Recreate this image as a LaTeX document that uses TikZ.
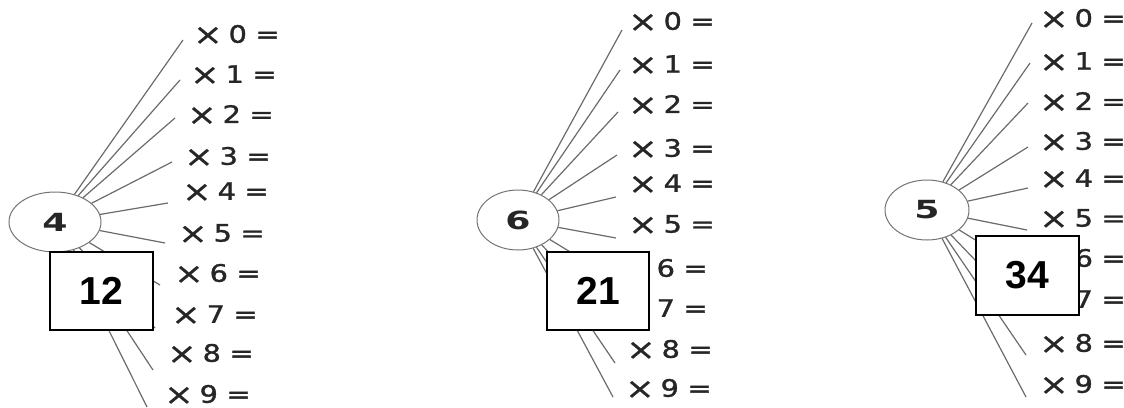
\documentclass[tikz,border=0pt]{standalone}
\usepackage{fontspec}
\newfontfamily\factfont[FakeBold=1.2]{DejaVu Sans}
\newfontfamily\crossfont[FakeBold=0.4]{DejaVu Sans}
\newfontfamily\hubfont{DejaVu Sans}
\newfontfamily\boxfont{Liberation Sans}
\usetikzlibrary{shapes.geometric}
\newcommand\facttext[1]{\scalebox{1.2}[1]{\smash{\raisebox{-1.8pt}{\scalebox{1.22}{\crossfont ×}}}\hspace{5pt}#1\hspace{7.2pt}=}}
\newcommand\hubtext[1]{\scalebox{1.45}[1]{#1}}
\tikzset{
  spoke/.style={draw=black!58, line width=1.2pt},
  hub/.style={ellipse, draw=black!55, line width=1pt, inner sep=0pt,
    font=\hubfont\bfseries\fontsize{25}{25}\selectfont, text=black!85},
  fact/.style={anchor=west, inner sep=0pt, font=\factfont\fontsize{24}{24}\selectfont, text=black!85},
  answer/.style={draw=black, line width=1.2pt, fill=white, inner sep=0pt,
    font=\boxfont\bfseries\fontsize{39}{39}\selectfont},
}
\begin{document}
\begin{tikzpicture}[x=1pt,y=-1pt]
\useasboundingbox (0,0) rectangle (1124,407);
% panel 1
\node[hub, minimum width=92pt, minimum height=60pt] (e1) at (55,222) {\hubtext{4}};
\foreach \i/\lx/\ly/\ex/\ey in {0/193/34/183/40, 1/190/74/180/80, 2/187/114/175/118,
  3/184/156/172/162, 4/182/191/168/203, 5/178/233/165/243, 6/174/273/160/285,
  7/171/314/155/328, 8/167/353/153/370, 9/164/394/147/407}{
  \coordinate (p1-\i) at (\ex,\ey);
  \node[fact] (l1-\i) at (\lx,\ly) {\facttext{\i}};
  \draw[spoke] (e1) -- (p1-\i);
}
% panel 2
\node[hub, minimum width=82pt, minimum height=60pt] (e2) at (518,220) {\hubtext{6}};
\foreach \i/\lx/\ly/\ex/\ey in {0/628/21/622/30, 1/628/64/620/70, 2/628/104/618/112, 3/628/148/617/155,
  4/628/183/616/197, 5/628/224/616/238, 6/621/268/616/280, 7/621/308/615/322, 8/626/349/615/363, 9/625/388/613/397}{
  \coordinate (p2-\i) at (\ex,\ey);
  \node[fact] (l2-\i) at (\lx,\ly) {\facttext{\i}};
  \draw[spoke] (e2) -- (p2-\i);
}
% panel 3
\node[hub, minimum width=84pt, minimum height=60pt] (e3) at (927,210) {\hubtext{5}};
\foreach \i/\ly/\ex/\ey in {0/18/1032/23, 1/61/1030/63, 2/101/1028/103, 3/141/1028/147,
  4/178/1028/188, 5/218/1027/230, 6/258/1027/272, 7/299/1026/313, 8/343/1026/355, 9/384/1026/397}{
  \coordinate (p3-\i) at (\ex,\ey);
  \node[fact] (l3-\i) at (1039,\ly) {\facttext{\i}};
  \draw[spoke] (e3) -- (p3-\i);
}
% answer boxes
\node[answer, minimum width=103pt, minimum height=78pt] (b1) at (101.5,291) {12};
\node[answer, minimum width=102pt, minimum height=78pt] (b2) at (598,291) {21};
\node[answer, minimum width=103pt, minimum height=79pt] (b3) at (1027.5,275.5) {34};
\end{tikzpicture}
\end{document}
